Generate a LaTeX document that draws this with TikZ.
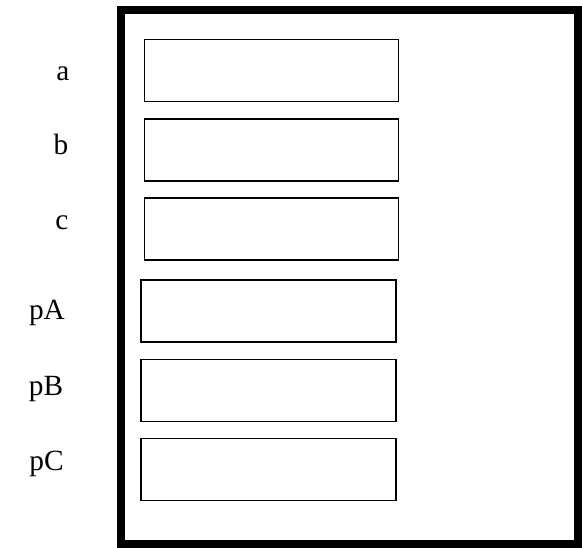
\documentclass[tikz,border=0pt]{standalone}
\usepackage{fontspec}
\setmainfont{Liberation Serif}
\begin{document}
\begin{tikzpicture}[x=0.75pt,y=-0.75pt,
  field/.style={draw,line width=1pt,minimum width=190.5pt,minimum height=46.5pt,inner sep=0pt},
  lbl/.style={anchor=base,inner sep=0pt,font=\fontsize{22}{26}\selectfont}]
\useasboundingbox (0,0) rectangle (582,548);
\node[draw,line width=6pt,minimum width=342.75pt,minimum height=400.5pt,inner sep=0pt] (frame) at (349.5,277.5) {};
\node[field] (fa) at (271.5,70.5) {};
\node[field] (fb) at (271.5,150) {};
\node[field] (fc) at (271.5,229) {};
\node[field,minimum width=191.25pt] (fpa) at (268.5,311) {};
\node[field,minimum width=191.25pt] (fpb) at (268.5,390.5) {};
\node[field,minimum width=191.25pt] (fpc) at (268.5,469.5) {};
\node[lbl] (la) at (63,80.7) {a};
\node[lbl] (lb) at (61,154.5) {b};
\node[lbl] (lc) at (62,229.5) {c};
\node[lbl] (lpa) at (47,319.5) {pA};
\node[lbl] (lpb) at (46,396) {pB};
\node[lbl] (lpc) at (46.5,470.5) {pC};
\end{tikzpicture}
\end{document}
